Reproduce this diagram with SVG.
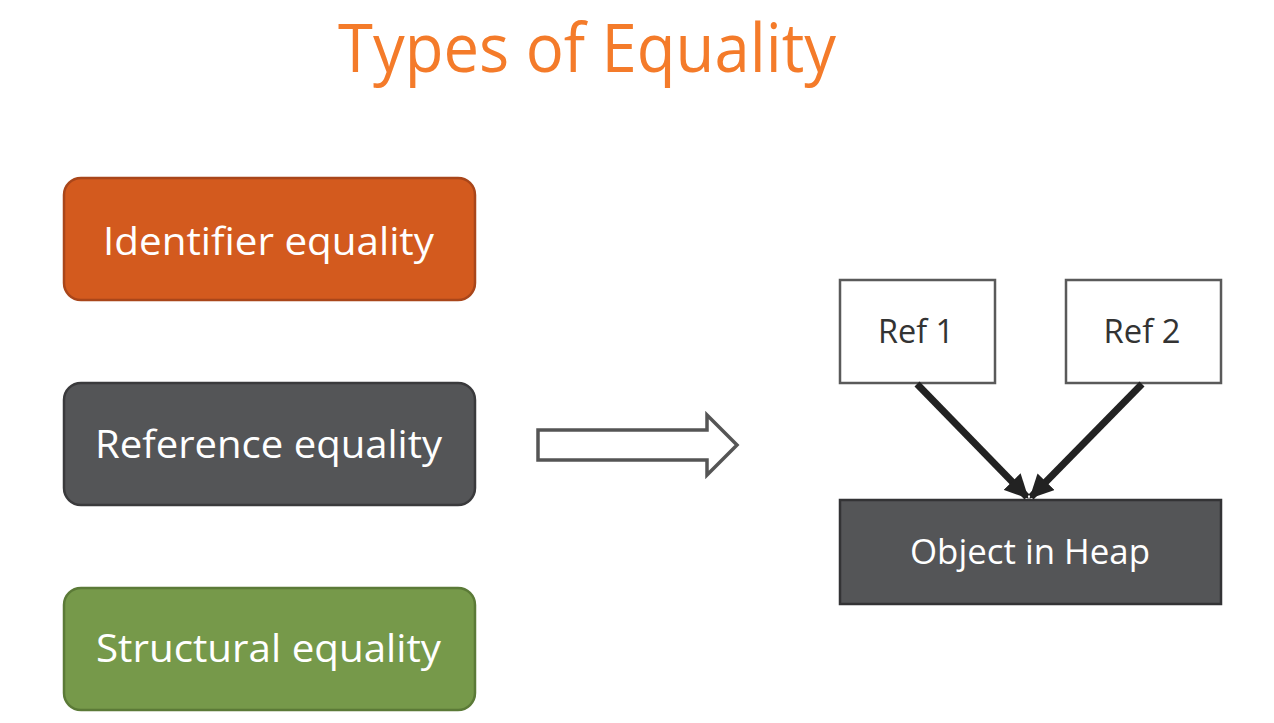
<svg xmlns="http://www.w3.org/2000/svg" width="1274" height="723" viewBox="0 0 1274 723">
<defs>
<style>
.t{font-family:"Open Sans","Noto Sans",sans-serif;}
.lbl{fill:#ffffff;font-size:38px;text-anchor:middle;}
.ref{fill:#333333;font-size:33px;text-anchor:middle;}
.rb{fill:#ffffff;stroke:#5a5a5a;stroke-width:2.5;}
.conn{stroke:#222222;stroke-width:7;fill:none;}
</style>
<marker id="ah" viewBox="0 0 10 10" refX="9" refY="5" markerWidth="3.4" markerHeight="3.4" orient="auto" markerUnits="strokeWidth">
<path d="M0,0 L10,5 L0,10 z" fill="#222222"/>
</marker>
</defs>
<rect width="1274" height="723" fill="#ffffff"/>
<text class="t" x="587" y="72" font-size="68" fill="#F47B2A" text-anchor="middle" textLength="498" lengthAdjust="spacingAndGlyphs">Types of Equality</text>
<g id="identifier">
<rect x="64" y="178" width="411" height="122" rx="17" fill="#D35A1E" stroke="#A9461A" stroke-width="2.5"/>
<text class="t lbl" x="268.5" y="255" textLength="331" lengthAdjust="spacingAndGlyphs">Identifier equality</text>
</g>
<g id="reference">
<rect x="64" y="383" width="411" height="122" rx="17" fill="#545557" stroke="#3a3a3c" stroke-width="2.5"/>
<text class="t lbl" x="268.5" y="458" textLength="347" lengthAdjust="spacingAndGlyphs">Reference equality</text>
</g>
<g id="structural">
<rect x="64" y="588" width="411" height="122" rx="17" fill="#76994A" stroke="#5B7A37" stroke-width="2.5"/>
<text class="t lbl" x="268.5" y="662" textLength="345" lengthAdjust="spacingAndGlyphs">Structural equality</text>
</g>
<g id="bigarrow">
<path d="M538,430 L707,430 L707,415 L737,445 L707,475 L707,460 L538,460 Z" fill="#ffffff" stroke="#555555" stroke-width="3.5" stroke-linejoin="miter"/>
</g>
<g id="ref1">
<rect class="rb" x="840" y="280" width="155" height="103"/>
<text class="t ref" x="916" y="343" textLength="76" lengthAdjust="spacingAndGlyphs">Ref 1</text>
</g>
<g id="ref2">
<rect class="rb" x="1066" y="280" width="155" height="103"/>
<text class="t ref" x="1142" y="343" textLength="77" lengthAdjust="spacingAndGlyphs">Ref 2</text>
</g>
<g id="heap">
<rect x="840" y="500" width="381" height="104" fill="#545557" stroke="#333335" stroke-width="2.5"/>
<text class="t" x="1030" y="564" font-size="35" fill="#ffffff" text-anchor="middle" textLength="240" lengthAdjust="spacingAndGlyphs">Object in Heap</text>
</g>
<g id="connectors">
<line class="conn" x1="917" y1="384" x2="1027" y2="497" marker-end="url(#ah)"/>
<line class="conn" x1="1142" y1="384" x2="1031" y2="497" marker-end="url(#ah)"/>
</g>
</svg>
